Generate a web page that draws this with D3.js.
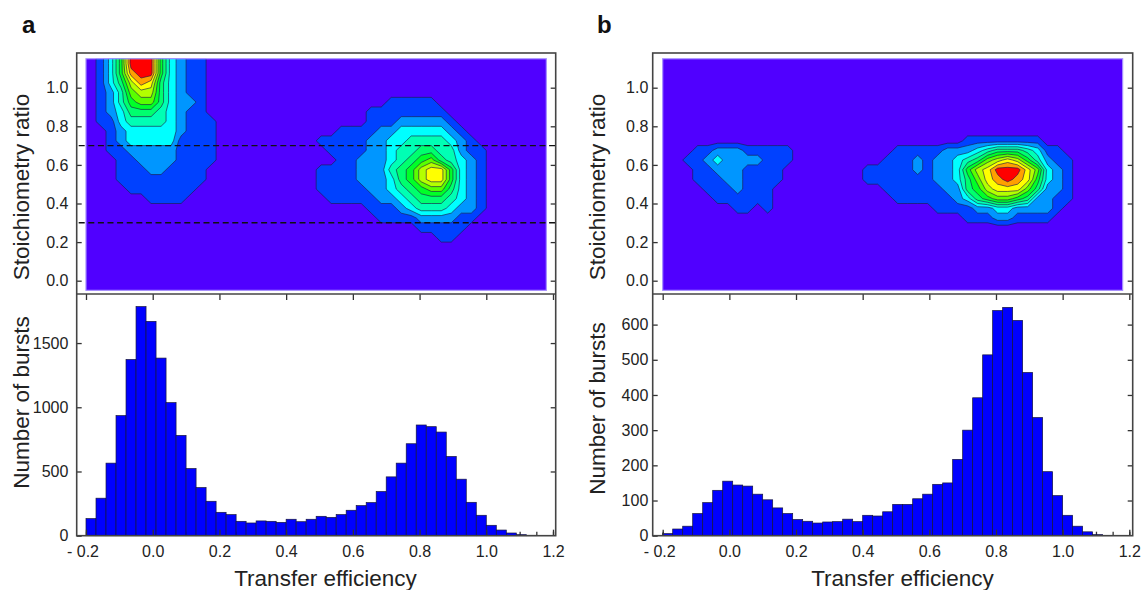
<!DOCTYPE html>
<html><head><meta charset="utf-8">
<script src="https://cdn.jsdelivr.net/npm/d3@7"></script>
<style>
html,body{margin:0;padding:0;background:#fff;}
svg{display:block;font-family:"Liberation Sans",Arial,sans-serif;}
</style></head><body>
<svg id="chart" width="1143" height="590"></svg>
<script>
// ---------------- data ----------------
const binStart = -0.2, binWidth = 0.03;
const burstsA = [133,292,565,935,1372,1784,1669,1383,1036,781,523,375,268,182,164,112,99,115,112,104,
  128,109,128,151,143,164,198,234,258,344,458,565,716,862,849,807,617,440,260,159,81,44,21,8,3,0];
const burstsB = [6,19,27,63,94,129,155,144,141,118,102,79,63,46,41,36,39,40,47,40,
  58,56,68,89,89,105,118,146,150,217,300,392,514,640,649,612,464,336,182,114,58,27,11,3,1];
const countMaxA = 1882, countMaxB = 687;
const countTicksA = [0, 500, 1000, 1500];
const countTicksB = [0, 100, 200, 300, 400, 500, 600];
const xTicks = [-0.2, 0, 0.2, 0.4, 0.6, 0.8, 1.0, 1.2];
const xTickLabels = ["- 0.2", "0.0", "0.2", "0.4", "0.6", "0.8", "1.0", "1.2"];
const xMinorTicks = d3.range(-0.2, 1.2001, 0.05);
const sTicks = [0, 0.2, 0.4, 0.6, 0.8, 1.0];
const sTickLabels = ["0.0", "0.2", "0.4", "0.6", "0.8", "1.0"];
const guideLinesA = [0.3, 0.7];

// 2D density grid: cells of 0.03 (E) x 0.05 (S); rows run from S = 1.15 downwards.
const gridE0 = -0.2, gridEStep = 0.03, gridCols = 46;
const gridSTop = 1.15, gridSStep = 0.05, gridRows = 24;
// contour level read in each cell (0 = background ... 11 = red); [row, first column, levels]
const densityA = [
  [0, 0, "0136bbb6321100"],
  [1, 0, "0136abb6321100"],
  [2, 0, "01358a95321100"],
  [3, 0, "01247885321100"],
  [4, 0, "01246775322100"],
  [5, 0, "01235554321100"],
  [6, 0, "01134444321110"],
  [7, 0, "00123333321110"],
  [8, 0, "00123333311110"],
  [9, 0, "00112222211110"],
  [10, 0, "00011222211110"],
  [11, 0, "00011122111100"],
  [12, 0, "00011111111100"],
  [13, 0, "00001111111000"],
  [14, 0, "00000011110000"],
  [4, 23, "000000011111000000"],
  [5, 23, "000001111111100000"],
  [6, 23, "000001112222210000"],
  [7, 23, "001111223333321000"],
  [8, 23, "111112233444432100"],
  [9, 23, "011112234455442110"],
  [10, 23, "001122234567543210"],
  [11, 23, "111122245689963210"],
  [12, 23, "111122235689963210"],
  [13, 23, "111112234567753210"],
  [14, 23, "011111223455543210"],
  [15, 23, "000001112344432210"],
  [16, 23, "000000111122221100"],
  [17, 23, "000000000011111000"],
  [18, 23, "000000000000110000"]
];
const densityB = [
  [9, 0, "00011222111110"],
  [10, 0, "00112322221110"],
  [11, 0, "00011222111100"],
  [12, 0, "00011122111100"],
  [13, 0, "00001112111000"],
  [14, 0, "00000111111000"],
  [15, 0, "00000001101000"],
  [8, 19, "00000000000111111110000"],
  [9, 19, "00001111122234555431100"],
  [10, 19, "00011121223457898642110"],
  [11, 19, "01111121223689bbb973210"],
  [12, 19, "01111111223579aba963210"],
  [13, 19, "00011111122568999752210"],
  [14, 19, "00001111112356776522110"],
  [15, 19, "00000000111122332222100"],
  [16, 19, "00000000000111221111000"]
];
const levelColors = ["#5000ff", "#0041ff", "#0096ff", "#00ffff", "#00ffb4", "#00ff6e",
  "#00ff28", "#5aff00", "#b4ff00", "#ffff00", "#ffa000", "#ff0000"];

// ---------------- layout ----------------
const panels = [
  {letter: "a", density: densityA, counts: burstsA, countMax: countMaxA, countTicks: countTicksA,
   guides: guideLinesA, frameL: 76.7, frameR: 555.7, xRange: [86, 553], letterX: 22,
   yTitleX: 29, yPad: 8.3, xTitleX: 325.5, histTitleY: 402.5},
  {letter: "b", density: densityB, counts: burstsB, countMax: countMaxB, countTicks: countTicksB,
   guides: [], frameL: 652.7, frameR: 1132.7, xRange: [662.7, 1129.3], letterX: 597,
   yTitleX: 605, yPad: 4.4, xTitleX: 902.5, histTitleY: 408.5}
];
const frameTop = 53, frameMid = 294, frameBot = 535.7;
const sRange = [280.7, 87.7];
const ink = "#222";
const tickFont = 16;

const svg = d3.select("#chart");

function buildGrid(segs) {
  const g = Array.from({length: gridRows}, () => new Array(gridCols).fill(0));
  segs.forEach(([r, c, s]) => { for (let k = 0; k < s.length; k++) g[r][c + k] = parseInt(s[k], 36); });
  return g;
}

panels.forEach((p, pi) => {
  const g = svg.append("g");
  const x = d3.scaleLinear().domain([-0.2, 1.2]).range(p.xRange);
  const yS = d3.scaleLinear().domain([0, 1]).range(sRange);
  const yH = d3.scaleLinear().domain([0, p.countMax]).range([frameBot, frameMid]);

  // ---- top: stoichiometry contour map ----
  const rx0 = x(gridE0), rx1 = x(gridE0 + gridCols * gridEStep);
  const ry0 = yS(gridSTop), ry1 = yS(gridSTop - gridRows * gridSStep);
  const clipId = "clip" + pi;
  svg.append("clipPath").attr("id", clipId).append("rect")
    .attr("x", rx0).attr("y", ry0).attr("width", rx1 - rx0).attr("height", ry1 - ry0);

  const grid = buildGrid(p.density);
  const W = gridCols + 2, H = gridRows + 2;
  const vals = new Array(W * H);
  for (let j = 0; j < H; j++) for (let i = 0; i < W; i++) {
    const gi = Math.min(gridCols - 1, Math.max(0, i - 1));
    const gj = Math.min(gridRows - 1, Math.max(0, j - 1));
    vals[j * W + i] = grid[gj][gi];
  }
  const conts = d3.contours().size([W, H]).thresholds(d3.range(0.5, 11, 1))(vals);
  const proj = d3.geoTransform({point: function (cx, cy) {
    this.stream.point(x(gridE0 + (cx - 1) * gridEStep), yS(gridSTop - (cy - 1) * gridSStep));
  }});
  const path = d3.geoPath(proj);

  const cg = g.append("g").attr("clip-path", `url(#${clipId})`);
  cg.append("rect").attr("x", rx0).attr("y", ry0).attr("width", rx1 - rx0).attr("height", ry1 - ry0)
    .attr("fill", levelColors[0]);
  cg.selectAll("path.c").data(conts).join("path").attr("class", "c")
    .attr("d", path)
    .attr("fill", d => levelColors[Math.round(d.value + 0.5)])
    .attr("stroke", "#1c1c48").attr("stroke-width", 0.75).attr("stroke-opacity", 0.85)
    .attr("stroke-linejoin", "round");
  g.append("rect").attr("x", rx0).attr("y", ry0).attr("width", rx1 - rx0).attr("height", ry1 - ry0)
    .attr("fill", "none").attr("stroke", "#a48cff").attr("stroke-width", 1.2);

  // guide lines
  g.selectAll("line.guide").data(p.guides).join("line").attr("class", "guide")
    .attr("x1", p.frameL + 2).attr("x2", p.frameR).attr("y1", d => yS(d)).attr("y2", d => yS(d))
    .attr("stroke", "#111").attr("stroke-width", 1.4).attr("stroke-dasharray", "6,3.6");

  // top plot axes
  const axS = g.append("g").attr("transform", `translate(${p.frameL},0)`)
    .call(d3.axisLeft(yS).tickValues(sTicks).tickSize(-5).tickPadding(p.yPad)
      .tickFormat((d, i) => sTickLabels[i]));
  const axSR = g.append("g").attr("transform", `translate(${p.frameR},0)`)
    .call(d3.axisRight(yS).tickValues(sTicks).tickSize(-5).tickFormat(""));
  const axMid = g.append("g").attr("transform", `translate(0,${frameMid})`)
    .call(d3.axisBottom(x).tickValues(xTicks).tickSize(6).tickFormat(""));

  // ---- bottom: histogram ----
  const axMinor = g.append("g").attr("transform", `translate(0,${frameBot})`)
    .call(d3.axisBottom(x).tickValues(xMinorTicks).tickSize(-4).tickFormat(""));
  g.selectAll("rect.bar").data(p.counts).join("rect").attr("class", "bar")
    .attr("x", (d, i) => x(binStart + i * binWidth))
    .attr("width", (d, i) => x(binStart + (i + 1) * binWidth) - x(binStart + i * binWidth))
    .attr("y", d => yH(d)).attr("height", d => frameBot - yH(d))
    .attr("fill", "#0000ff").attr("stroke", "#16163c").attr("stroke-width", 0.7);

  const axX = g.append("g").attr("transform", `translate(0,${frameBot})`)
    .call(d3.axisBottom(x).tickValues(xTicks).tickSize(-6).tickPadding(9.5)
      .tickFormat((d, i) => xTickLabels[i]));
  axX.selectAll(".tick text").attr("dx", (d, i) => i === 0 ? -3.5 : 0);
  const axH = g.append("g").attr("transform", `translate(${p.frameL},0)`)
    .call(d3.axisLeft(yH).tickValues(p.countTicks).tickSize(-5).tickPadding(p.yPad)
      .tickFormat(d3.format("d")));
  const axHR = g.append("g").attr("transform", `translate(${p.frameR},0)`)
    .call(d3.axisRight(yH).tickValues(p.countTicks.filter(v => v > 0)).tickSize(-5).tickFormat(""));

  [axS, axSR, axMid, axMinor, axX, axH, axHR].forEach(a => {
    a.select(".domain").remove();
    a.selectAll(".tick line").attr("stroke", "#333").attr("stroke-width", 1.3);
    a.selectAll(".tick text").attr("fill", ink).attr("font-size", tickFont)
      .attr("font-family", '"Liberation Sans",Arial,sans-serif');
  });

  // frame
  const fr = g.append("g").attr("fill", "none").attr("stroke", "#444").attr("stroke-width", 1.6);
  fr.append("rect").attr("x", p.frameL).attr("y", frameTop)
    .attr("width", p.frameR - p.frameL).attr("height", frameBot - frameTop);
  fr.append("line").attr("x1", p.frameL).attr("x2", p.frameR).attr("y1", frameMid).attr("y2", frameMid);

  // titles
  g.append("text").attr("x", p.letterX).attr("y", 33).text(p.letter)
    .attr("font-size", 24).attr("font-weight", "bold").attr("fill", "#111");
  g.append("text").attr("transform", `translate(${p.yTitleX},187) rotate(-90)`)
    .attr("text-anchor", "middle").attr("font-size", 22.5).attr("fill", ink).text("Stoichiometry ratio");
  g.append("text").attr("transform", `translate(${p.yTitleX},${p.histTitleY}) rotate(-90)`)
    .attr("text-anchor", "middle").attr("font-size", 22.5).attr("fill", ink).text("Number of bursts");
  g.append("text").attr("x", p.xTitleX).attr("y", 585.5).attr("text-anchor", "middle")
    .attr("font-size", 22.5).attr("fill", ink).text("Transfer efficiency");
});
</script>
</body></html>
